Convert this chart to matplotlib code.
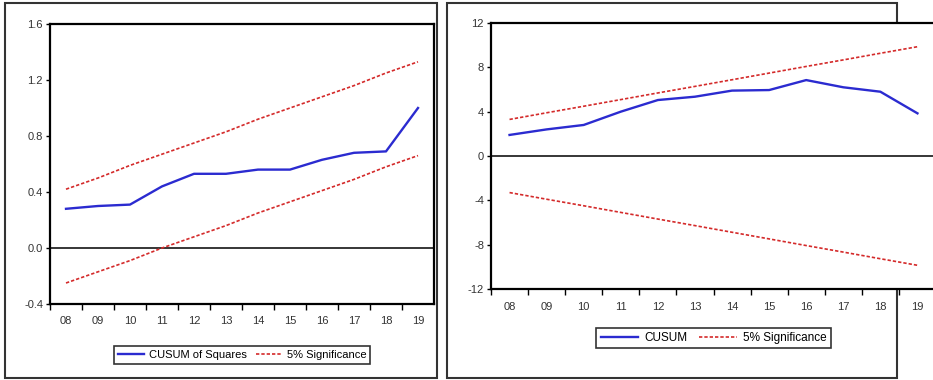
import matplotlib.pyplot as plt
from matplotlib.patches import Rectangle

plt.rcParams['font.family'] = ['Liberation Sans', 'DejaVu Sans']

# -----------------------------
# DATA
# -----------------------------
years = ["08", "09", "10", "11", "12", "13", "14", "15", "16", "17", "18", "19"]

cusum_sq = [0.28, 0.30, 0.31, 0.44, 0.53, 0.53, 0.56, 0.56, 0.63, 0.68, 0.69, 1.00]
sq_upper = [0.42, 0.50, 0.59, 0.67, 0.75, 0.83, 0.92, 1.00, 1.08, 1.16, 1.25, 1.33]
sq_lower = [-0.25, -0.17, -0.09, 0.00, 0.08, 0.16, 0.25, 0.33, 0.41, 0.49, 0.58, 0.66]

cusum = [1.9, 2.4, 2.8, 4.0, 5.05, 5.35, 5.9, 5.95, 6.85, 6.2, 5.8, 3.85]
cs_upper = [3.30, 3.90, 4.49, 5.09, 5.69, 6.28, 6.88, 7.48, 8.08, 8.67, 9.27, 9.86]
cs_lower = [-3.30, -3.90, -4.49, -5.09, -5.69, -6.28, -6.88, -7.48, -8.08, -8.67, -9.27, -9.86]

BLUE = "#2b2bd0"
RED = "#d42a2a"

fig = plt.figure(figsize=(9.33, 3.8), dpi=100)

# outer frames (drawn behind the charts)
fig.patches.append(Rectangle((5 / 933, 2 / 380), 432 / 933, 375 / 380, transform=fig.transFigure,
                             fill=False, edgecolor="#333333", linewidth=1.5, zorder=0))
fig.patches.append(Rectangle((447 / 933, 2 / 380), 450 / 933, 375 / 380, transform=fig.transFigure,
                             fill=False, edgecolor="#333333", linewidth=1.5, zorder=0))


def style_axes(ax, yticks, ylabels):
    x = range(len(years))
    ax.set_xlim(-0.5, len(years) - 0.5)
    ax.set_xticks(x)
    ax.set_xticklabels(years, fontsize=8, color="#333333")
    ax.set_xticks([i - 0.5 for i in x], minor=True)
    ax.tick_params(axis="x", which="major", length=0, pad=9)
    ax.tick_params(axis="x", which="minor", length=4, width=1, direction="out")
    ax.set_yticks(yticks)
    ax.set_yticklabels(ylabels, fontsize=8, color="#333333")
    ax.tick_params(axis="y", length=3, width=1, direction="out", pad=2)
    for s in ax.spines.values():
        s.set_linewidth(1.6)
        s.set_color("black")
    ax.axhline(0, color="black", linewidth=1.1, zorder=1)
    ax.set_facecolor("white")


# -----------------------------
# LEFT: CUSUM OF SQUARES
# -----------------------------
ax1 = fig.add_axes([50 / 933, 1 - 304 / 380, 384 / 933, 280 / 380], zorder=2)
x = range(len(years))
ax1.plot(x, cusum_sq, color=BLUE, linewidth=1.7, label="CUSUM of Squares", zorder=3)
ax1.plot(x, sq_upper, color=RED, linewidth=1.2, linestyle=(0, (2, 1.2)), label="5% Significance", zorder=3)
ax1.plot(x, sq_lower, color=RED, linewidth=1.2, linestyle=(0, (2, 1.2)), zorder=3)
ax1.set_ylim(-0.4, 1.6)
style_axes(ax1, [-0.4, 0.0, 0.4, 0.8, 1.2, 1.6], ["-0.4", "0.0", "0.4", "0.8", "1.2", "1.6"])
leg = ax1.legend(loc="center", bbox_to_anchor=(0.5, -0.182), ncol=2, fontsize=8, frameon=True,
                 fancybox=False, handlelength=2.4, handletextpad=0.4, columnspacing=0.8,
                 borderpad=0.35, edgecolor="black")
leg.get_frame().set_linewidth(1.2)

# -----------------------------
# RIGHT: CUSUM
# -----------------------------
ax2 = fig.add_axes([491 / 933, 1 - 289 / 380, 445 / 933, 266 / 380], zorder=2)
ax2.plot(x, cusum, color=BLUE, linewidth=1.7, label="CUSUM", zorder=3)
ax2.plot(x, cs_upper, color=RED, linewidth=1.2, linestyle=(0, (2, 1.2)), label="5% Significance", zorder=3)
ax2.plot(x, cs_lower, color=RED, linewidth=1.2, linestyle=(0, (2, 1.2)), zorder=3)
ax2.set_ylim(-12, 12)
style_axes(ax2, [-12, -8, -4, 0, 4, 8, 12], ["-12", "-8", "-4", "0", "4", "8", "12"])
leg = ax2.legend(loc="center", bbox_to_anchor=(0.5, -0.184), ncol=2, fontsize=8.5, frameon=True,
                 fancybox=False, handlelength=3.2, handletextpad=0.5, columnspacing=1.0,
                 borderpad=0.35, edgecolor="black")
leg.get_frame().set_linewidth(1.2)

plt.savefig("out.png", dpi=100)
plt.close()
